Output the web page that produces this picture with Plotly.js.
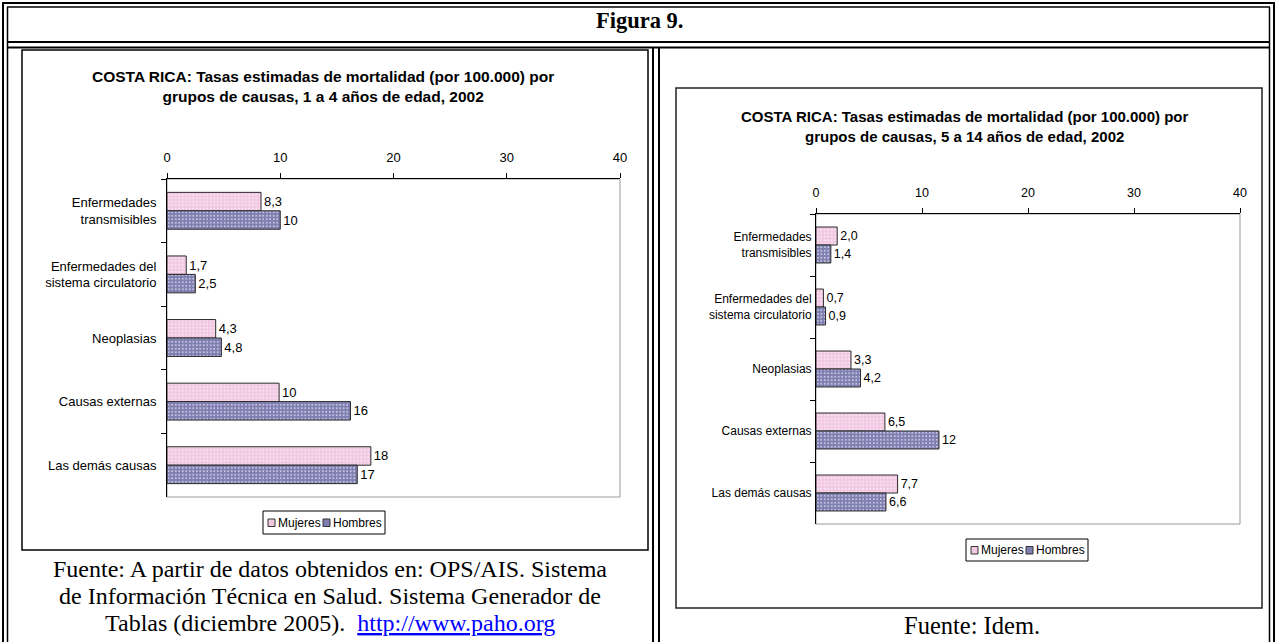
<!DOCTYPE html>
<html><head><meta charset="utf-8">
<script src="https://cdn.plot.ly/plotly-3.0.1.min.js"></script>
<style>html,body{margin:0;padding:0;background:#fff}#chart{width:1277px;height:642px}</style>
</head><body><div id="chart"></div>
<script>
// ---- data ----
const categories = ["Enfermedades<br>transmisibles", "Enfermedades del<br>sistema circulatorio", "Neoplasias", "Causas externas", "Las demás causas"];
const seriesNames = ["Mujeres", "Hombres"];
const mujeres1a4 = [8.3, 1.7, 4.3, 9.9, 18.0];
const hombres1a4 = [10.0, 2.5, 4.8, 16.2, 16.8];
const mujeres1a4Labels = ["8,3", "1,7", "4,3", "10", "18"];
const hombres1a4Labels = ["10", "2,5", "4,8", "16", "17"];
const mujeres5a14 = [2.0, 0.7, 3.3, 6.5, 7.7];
const hombres5a14 = [1.4, 0.9, 4.2, 11.6, 6.6];
const mujeres5a14Labels = ["2,0", "0,7", "3,3", "6,5", "7,7"];
const hombres5a14Labels = ["1,4", "0,9", "4,2", "12", "6,6"];
const xTickValues = [0, 10, 20, 30, 40];
const titleLeft = "<b>COSTA RICA: Tasas estimadas de mortalidad (por 100.000) por<br>grupos de causas, 1 a 4 años de edad, 2002</b>";
const titleRight = "<b>COSTA RICA: Tasas estimadas de mortalidad (por 100.000) por<br>grupos de causas, 5 a 14 años de edad, 2002</b>";
const figTitle = "<b>Figura 9.</b>";
const sourceLeftLines = [
  "Fuente: A partir de datos obtenidos en: OPS/AIS. Sistema",
  "de Información Técnica en Salud. Sistema Generador de",
  "Tablas (diciembre 2005).  <a href=\"http://www.paho.org\"><span style=\"color:#0000ff\"><u>http://www.paho.org</u></span></a>"
];
const sourceRight = "Fuente: Idem.";

// ---- layout helpers (page pixels -> paper fractions) ----
const W = 1277, H = 642;
const X = p => p / W;
const Y = p => 1 - p / H;

const SANS = "Liberation Sans, Arial, sans-serif";
const SERIF = "Liberation Serif, Times New Roman, serif";
const PINK = "#f2c9e3", PINK_DOT = "#fbeaf5";
const BLUE = "#7f7fb1", BLUE_DOT = "#d4d4ea";

function barTrace(vals, labels, name, color, dotColor, xa, ya, fontSize) {
  return {
    type: "bar", orientation: "h", y: categories, x: vals, name: name,
    xaxis: xa, yaxis: ya, showlegend: false,
    text: labels, textposition: "outside", cliponaxis: false, constraintext: "none",
    textfont: {family: SANS, size: fontSize, color: "#000"},
    marker: {color: color, line: {color: "#2a2a2a", width: 1},
      pattern: {shape: ".", fgcolor: dotColor, bgcolor: color, size: 3.5, solidity: 0.22}},
    hoverinfo: "x+y+name"
  };
}

const data = [
  barTrace(mujeres1a4, mujeres1a4Labels, seriesNames[0], PINK, PINK_DOT, "x", "y", 13),
  barTrace(hombres1a4, hombres1a4Labels, seriesNames[1], BLUE, BLUE_DOT, "x", "y", 13),
  barTrace(mujeres5a14, mujeres5a14Labels, seriesNames[0], PINK, PINK_DOT, "x2", "y2", 12.5),
  barTrace(hombres5a14, hombres5a14Labels, seriesNames[1], BLUE, BLUE_DOT, "x2", "y2", 12.5)
];

function xAxis(domL, domR, anchor, fs) {
  return {domain: [X(domL), X(domR)], anchor: anchor, side: "top", range: [0, 40],
    tickvals: xTickValues, ticks: "outside", ticklen: 5, tickcolor: "#000", ticklabelstandoff: 6,
    showline: true, linecolor: "#000", linewidth: 1, showgrid: false, zeroline: false,
    tickfont: {family: SANS, size: fs, color: "#000"}, fixedrange: true};
}
function yAxis(top, bottom, anchor, fs, standoff) {
  return {domain: [Y(bottom), Y(top)], anchor: anchor, type: "category", autorange: "reversed",
    ticks: "outside", tickson: "boundaries", ticklen: 5, tickcolor: "#000", ticklabelstandoff: standoff,
    showline: true, linecolor: "#000", linewidth: 1, showgrid: false, zeroline: false,
    tickfont: {family: SANS, size: fs, color: "#000"}, fixedrange: true};
}

// plot areas in page pixels
const L = {l: 167, r: 620, t: 179, b: 497};
const R = {l: 816, r: 1240, t: 214, b: 524};

function line(x0, y0, x1, y1, w, c) {
  return {type: "line", xref: "paper", yref: "paper", x0: X(x0), y0: Y(y0), x1: X(x1), y1: Y(y1),
    line: {color: c || "#000", width: w}, layer: "above"};
}
function rect(x0, y0, x1, y1, w, c, layer, fill) {
  return {type: "rect", xref: "paper", yref: "paper", x0: X(x0), y0: Y(y0), x1: X(x1), y1: Y(y1),
    line: {color: c || "#000", width: w}, fillcolor: fill || "rgba(0,0,0,0)", layer: layer || "above"};
}

// legend boxes (page pixels)
const LG1 = {l: 263, t: 511, b: 534};
const LG2 = {l: 966, t: 539, b: 561};

function legendShapes(lg) {
  const cy = (lg.t + lg.b) / 2;
  return [
    rect(lg.l, lg.t, lg.l + 122, lg.b, 1, "#000", "above", "#fff"),
    rect(lg.l + 5, cy - 3.5, lg.l + 12, cy + 4, 1, "#333", "above", PINK),
    rect(lg.l + 60, cy - 3.5, lg.l + 67, cy + 4, 1, "#333", "above", BLUE)
  ];
}
function legendTexts(lg) {
  const cy = (lg.t + lg.b) / 2;
  return [
    {text: seriesNames[0], xref: "paper", yref: "paper", x: X(lg.l + 13), y: Y(cy), xanchor: "left", yanchor: "middle",
      showarrow: false, font: {family: SANS, size: 12, color: "#000"}},
    {text: seriesNames[1], xref: "paper", yref: "paper", x: X(lg.l + 68), y: Y(cy), xanchor: "left", yanchor: "middle",
      showarrow: false, font: {family: SANS, size: 12, color: "#000"}}
  ];
}

const shapes = [
  // outer table double border
  line(2, 3, 1275, 3, 2), line(7, 7, 1270, 7, 1.5),
  line(3, 2, 3, 642, 2), line(7.5, 7, 7.5, 642, 1.5),
  line(1274, 2, 1274, 642, 2), line(1269.5, 7, 1269.5, 642, 1.5),
  // header row bottom (double)
  line(7, 42, 1270, 42, 2), line(7, 47.5, 1270, 47.5, 2),
  // column divider (double)
  line(653, 47.5, 653, 642, 2), line(659, 47.5, 659, 642, 2),
  // chart boxes
  rect(22, 50, 648, 550, 1.5, "#000"),
  rect(676, 88, 1262, 608, 1.5, "#222"),
  // plot area borders
  rect(L.l, L.t, L.r, L.b, 1, "#9a9a9a", "below"),
  rect(R.l, R.t, R.r, R.b, 1, "#9a9a9a", "below")
].concat(legendShapes(LG1), legendShapes(LG2));

const annotations = [
  {text: figTitle, xref: "paper", yref: "paper", x: X(640), y: Y(20), showarrow: false,
    font: {family: SERIF, size: 22.5, color: "#000"}, xanchor: "center", yanchor: "middle"},
  {text: titleLeft, xref: "paper", yref: "paper", x: X(323), y: Y(86), showarrow: false,
    font: {family: SANS, size: 15.5, color: "#000"}, xanchor: "center", yanchor: "middle"},
  {text: titleRight, xref: "paper", yref: "paper", x: X(965), y: Y(126), showarrow: false,
    font: {family: SANS, size: 15, color: "#000"}, xanchor: "center", yanchor: "middle"},
  {text: sourceRight, xref: "paper", yref: "paper", x: X(972), y: Y(625), showarrow: false,
    font: {family: SERIF, size: 24.5, color: "#000"}, xanchor: "center", yanchor: "middle"}
].concat(sourceLeftLines.map((t, i) => ({
  text: t, xref: "paper", yref: "paper", x: X(330), y: Y(569 + 27 * i), showarrow: false,
  font: {family: SERIF, size: 24, color: "#000"}, xanchor: "center", yanchor: "middle"
}))).concat(legendTexts(LG1), legendTexts(LG2));

const layout = {
  width: W, height: H, margin: {l: 0, r: 0, t: 0, b: 0},
  paper_bgcolor: "#fff", plot_bgcolor: "rgba(0,0,0,0)",
  barmode: "group", bargap: 0.42, bargroupgap: 0,
  showlegend: false,
  xaxis: xAxis(L.l, L.r, "y", 13), yaxis: yAxis(L.t, L.b, "x", 13, 7),
  xaxis2: xAxis(R.l, R.r, "y2", 12.5), yaxis2: yAxis(R.t, R.b, "x2", 12, 1),
  shapes: shapes, annotations: annotations,
  font: {family: SANS, color: "#000"}
};

Plotly.newPlot("chart", data, layout, {displayModeBar: false, responsive: false});
</script>
</body></html>
